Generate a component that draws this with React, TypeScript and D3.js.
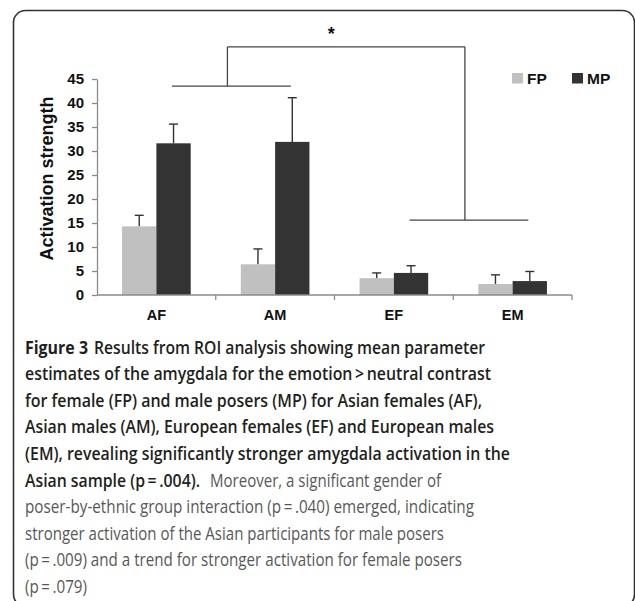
import { useEffect, useRef } from "react";
import * as d3 from "d3";

const categories = ["AF", "AM", "EF", "EM"];
const series = ["FP", "MP"];
const fpMeans = [14.3, 6.4, 3.5, 2.3];
const fpErrors = [2.3, 3.2, 1.1, 1.9];
const mpMeans = [31.6, 31.9, 4.6, 2.9];
const mpErrors = [4.0, 9.2, 1.5, 2.0];
const yTicks = [0, 5, 10, 15, 20, 25, 30, 35, 40, 45];

// significance bracket: Asian (AF, AM) vs European (EF, EM)
const bracketPairs = [
  ["AF", "AM"],
  ["EF", "EM"],
];
const bracketLevels = [43.5, 15.6];
const bracketTop = 51.7;

// caption runs: [line, text, weight]
const captionRuns: [number, string, number][] = [
  [0, "Figure 3", 700],
  [0, "Results from ROI analysis showing mean parameter", 600],
  [1, "estimates of the amygdala for the emotion\u2009>\u2009neutral contrast", 600],
  [2, "for female (FP) and male posers (MP) for Asian females (AF),", 600],
  [3, "Asian males (AM), European females (EF) and European males", 600],
  [4, "(EM), revealing significantly stronger amygdala activation in the", 600],
  [5, "Asian sample (p\u2009=\u2009.004).", 600],
  [5, "Moreover, a significant gender of", 400],
  [6, "poser-by-ethnic group interaction (p\u2009=\u2009.040) emerged, indicating", 400],
  [7, "stronger activation of the Asian participants for male posers", 400],
  [8, "(p\u2009=\u2009.009) and a trend for stronger activation for female posers", 400],
  [9, "(p\u2009=\u2009.079)", 400],
];
// left edge and fitted width of each run, in px
const captionBoxes: [number, number][] = [
  [25, 63], [94, 391], [25, 466], [25, 457], [25, 469], [25, 485],
  [25, 175], [210, 231], [25, 449], [25, 419], [25, 437], [25, 62],
];

const W = 635;
const H = 601;

export default function App() {
  const ref = useRef<SVGSVGElement | null>(null);

  useEffect(() => {
    const svg = d3.select(ref.current!);
    svg.selectAll("*").remove();

    const x = d3.scaleBand<string>().domain(categories).range([97, 572]);
    const xs = d3.scaleBand<string>().domain(series).range([0, x.bandwidth()]).paddingOuter(0.73);
    const y = d3.scaleLinear().domain([0, 45]).range([295, 79]);
    const color: Record<string, string> = { FP: "#c0c0c0", MP: "#333333" };

    // frame
    svg.append("rect")
      .attr("x", 13.5).attr("y", 10.5)
      .attr("width", 621).attr("height", 596)
      .attr("rx", 12)
      .attr("fill", "none")
      .attr("stroke", "#333")
      .attr("stroke-width", 1.6);

    const rows = categories.map((c, i) => [
      { c, s: "FP", v: fpMeans[i], e: fpErrors[i] },
      { c, s: "MP", v: mpMeans[i], e: mpErrors[i] },
    ]).flat();

    // error bars (up only)
    const eb = svg.append("g").attr("stroke", "#333").attr("stroke-width", 1.4);
    rows.forEach((d) => {
      const cx = x(d.c)! + xs(d.s)! + xs.bandwidth() / 2;
      eb.append("line").attr("x1", cx).attr("x2", cx).attr("y1", y(d.v)).attr("y2", y(d.v + d.e));
      eb.append("line").attr("x1", cx - 4.5).attr("x2", cx + 4.5).attr("y1", y(d.v + d.e)).attr("y2", y(d.v + d.e));
    });

    svg.append("g")
      .selectAll("rect")
      .data(rows)
      .join("rect")
      .attr("x", (d) => x(d.c)! + xs(d.s)!)
      .attr("y", (d) => y(d.v))
      .attr("width", xs.bandwidth())
      .attr("height", (d) => y(0) - y(d.v))
      .attr("fill", (d) => color[d.s]);

    // axes
    const axisColor = "#8a8a8a";
    const yAxis = svg.append("g")
      .attr("transform", "translate(97,0)")
      .call(d3.axisLeft(y).tickValues(yTicks).tickSize(5).tickPadding(8).tickSizeOuter(0));
    yAxis.select(".domain").attr("stroke", axisColor).attr("stroke-width", 1.3);
    yAxis.selectAll(".tick line").attr("stroke", axisColor).attr("stroke-width", 1.3);
    yAxis.selectAll(".tick text")
      .attr("fill", "#111")
      .style("font", "bold 15px 'Liberation Sans', Arial, sans-serif");

    const xg = svg.append("g").attr("stroke", axisColor).attr("stroke-width", 1.3);
    xg.append("line").attr("x1", 97).attr("x2", 572).attr("y1", y(0)).attr("y2", y(0));
    [...categories.map((c) => x(c)!), 572].forEach((px, i) => {
      if (i === 0) return;
      xg.append("line").attr("x1", px).attr("x2", px).attr("y1", y(0)).attr("y2", y(0) + 5);
    });

    svg.append("g")
      .selectAll("text")
      .data(categories)
      .join("text")
      .attr("x", (c) => x(c)! + x.bandwidth() / 2)
      .attr("y", 319.5)
      .attr("text-anchor", "middle")
      .attr("fill", "#111")
      .style("font", "bold 14.5px 'Liberation Sans', Arial, sans-serif")
      .text((c) => c);

    svg.append("text")
      .attr("transform", `translate(53,178.5) rotate(-90)`)
      .attr("text-anchor", "middle")
      .attr("fill", "#111")
      .style("font", "bold 18px 'Liberation Sans', Arial, sans-serif")
      .text("Activation strength");

    // brackets
    const bk = svg.append("g").attr("stroke", "#444").attr("stroke-width", 1.3).attr("fill", "none");
    const drops: number[] = [];
    bracketPairs.forEach(([a, b], i) => {
      const x1 = x(a)! + xs("MP")! + xs.bandwidth() / 2 - 1.5;
      const x2 = x(b)! + xs("MP")! + xs.bandwidth() / 2 - 1.5;
      const mid = (x1 + x2) / 2 - 4;
      drops.push(mid);
      bk.append("line").attr("x1", x1).attr("x2", x2).attr("y1", y(bracketLevels[i])).attr("y2", y(bracketLevels[i]));
      bk.append("line").attr("x1", mid).attr("x2", mid).attr("y1", y(bracketLevels[i])).attr("y2", y(bracketTop));
    });
    bk.append("line").attr("x1", drops[0]).attr("x2", drops[1]).attr("y1", y(bracketTop)).attr("y2", y(bracketTop));
    svg.append("text")
      .attr("x", (drops[0] + drops[1]) / 2 - 15)
      .attr("y", 40)
      .attr("text-anchor", "middle")
      .attr("fill", "#111")
      .style("font", "bold 18px 'Liberation Sans', Arial, sans-serif")
      .text("*");

    // legend
    const lg = svg.append("g").style("font", "bold 15.5px 'Liberation Sans', Arial, sans-serif");
    [["FP", 512], ["MP", 572]].forEach(([s, lx]) => {
      lg.append("rect").attr("x", lx as number).attr("y", 73).attr("width", 11).attr("height", 10.5).attr("fill", color[s as string]);
      lg.append("text").attr("x", (lx as number) + 15).attr("y", 84).attr("fill", "#111").text(s as string);
    });

    // caption
    svg.append("g")
      .style("font-family", "'Open Sans', 'Noto Sans', sans-serif")
      .style("font-size", "18.5px")
      .selectAll("text")
      .data(captionRuns)
      .join("text")
      .attr("x", (_, i) => captionBoxes[i][0])
      .attr("y", (d) => 353.5 + d[0] * 26.6)
      .attr("textLength", (_, i) => captionBoxes[i][1])
      .attr("lengthAdjust", "spacingAndGlyphs")
      .attr("font-weight", (d) => d[2])
      .attr("fill", (d) => (d[2] >= 600 ? "#231f20" : "#585858"))
      .text((d) => d[1]);
  }, []);

  return (
    <svg
      ref={ref}
      width={W}
      height={H}
      style={{ position: "absolute", left: 0, top: 0, background: "#fff" }}
    />
  );
}
